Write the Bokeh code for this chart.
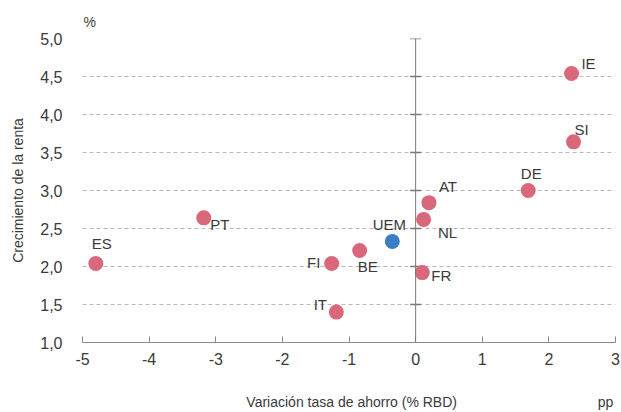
from bokeh.plotting import figure
from bokeh.models import (ColumnDataSource, Span, FixedTicker, CustomJSTickFormatter,
                          Range1d, LinearAxis)
from bokeh.core.properties import value
from bokeh.embed import file_html
from bokeh.resources import INLINE

countries = ["IE", "SI", "DE", "AT", "NL", "UEM", "FR", "BE", "FI", "IT", "PT", "ES"]
savings_change = [2.34, 2.37, 1.69, 0.20, 0.12, -0.35, 0.10, -0.84, -1.26, -1.19, -3.18, -4.80]
income_growth = [4.54, 3.64, 3.00, 2.84, 2.62, 2.33, 1.92, 2.21, 2.04, 1.40, 2.64, 2.04]
label_dx = [17, 8, 3, 19, 24, -3, 19, 8, -18, -16, 16, 6]
label_dy = [-10, -12, -17, -16, 13, -17, 3, 16, -1, -8, 7, -20]
point_colors = ["#3D7DC8" if c == "UEM" else "#D9687B" for c in countries]

x_ticks = [-5, -4, -3, -2, -1, 0, 1, 2, 3]
y_ticks = [1.0, 1.5, 2.0, 2.5, 3.0, 3.5, 4.0, 4.5, 5.0]

x_title = "Variación tasa de ahorro (% RBD)"
x_unit = "pp"
y_title = "Crecimiento de la renta"
y_unit = "%"
# positions (in x data units) of the x title and the x unit on the title row
x_title_row_pos = [-0.96, 2.85]

FONT = "Liberation Sans"
TXT = "#3a3a3a"

src = ColumnDataSource(dict(x=savings_change, y=income_growth, name=countries,
                            dx=label_dx, dy=label_dy, color=point_colors))

p = figure(width=620, height=412, output_backend="svg", toolbar_location=None,
           x_range=Range1d(-5, 3), y_range=Range1d(1.0, 5.0),
           min_border_left=82, min_border_right=5, min_border_top=38, min_border_bottom=70,
           title=y_unit)
p.outline_line_color = None
p.background_fill_color = "white"
p.border_fill_color = "white"

p.title.text_font = FONT
p.title.text_font_size = "14px"
p.title.text_font_style = "normal"
p.title.text_color = TXT
p.title.align = "left"
p.title.offset = 1
p.title.standoff = 18

# grid
p.xgrid.grid_line_color = None
p.ygrid.ticker = FixedTicker(ticks=y_ticks[1:])
p.ygrid.grid_line_color = "#b8b8b8"
p.ygrid.grid_line_dash = "4 3"
p.ygrid.grid_line_width = 1

# x axis
p.xaxis.ticker = FixedTicker(ticks=x_ticks)
p.xaxis.formatter = CustomJSTickFormatter(code="return tick.toFixed(0);")
p.xaxis.axis_line_color = "#8a8a8a"
p.xaxis.major_tick_line_color = "#8a8a8a"
p.xaxis.major_tick_in = 6
p.xaxis.major_tick_out = 0
p.xaxis.minor_tick_line_color = None
p.xaxis.major_label_standoff = 10
p.xaxis.major_label_text_font = FONT
p.xaxis.major_label_text_font_size = "16px"
p.xaxis.major_label_text_color = TXT

# second row below the x axis: title (centered) and unit (right)
title_axis = LinearAxis(ticker=FixedTicker(ticks=x_title_row_pos),
                        formatter=CustomJSTickFormatter(args=dict(labels=[x_title, x_unit]),
                                                        code="return labels[index];"))
title_axis.axis_line_color = None
title_axis.major_tick_line_color = None
title_axis.minor_tick_line_color = None
title_axis.major_label_standoff = 20
title_axis.major_label_text_font = FONT
title_axis.major_label_text_font_size = "14px"
title_axis.major_label_text_color = TXT
p.add_layout(title_axis, "below")

# y axis
p.yaxis.ticker = FixedTicker(ticks=y_ticks)
p.yaxis.formatter = CustomJSTickFormatter(code="return tick.toFixed(1).replace('.', ',');")
p.yaxis.axis_line_color = None
p.yaxis.major_tick_line_color = None
p.yaxis.minor_tick_line_color = None
p.yaxis.major_label_standoff = 14
p.yaxis.major_label_text_font = FONT
p.yaxis.major_label_text_font_size = "16px"
p.yaxis.major_label_text_color = TXT
p.yaxis.axis_label = y_title
p.yaxis.axis_label_text_font = FONT
p.yaxis.axis_label_text_font_size = "14px"
p.yaxis.axis_label_text_font_style = "normal"
p.yaxis.axis_label_text_color = TXT
p.yaxis.axis_label_standoff = 11

# vertical zero line with small ticks
p.add_layout(Span(location=0, dimension="height", line_color="#7a7a7a", line_width=1))
p.scatter(x=[0] * (len(y_ticks) - 1), y=y_ticks[1:], marker="dash", size=11,
          line_color="#7a7a7a", line_width=1.5)

# points
p.scatter("x", "y", source=src, size=15, fill_color="color", line_color=None)

# labels
p.text("x", "y", text="name", source=src, x_offset="dx", y_offset="dy",
       text_align="center", text_baseline="middle",
       text_font=value(FONT), text_font_size="15px", text_color=TXT)

open("out.html", "w").write(file_html(p, INLINE))
